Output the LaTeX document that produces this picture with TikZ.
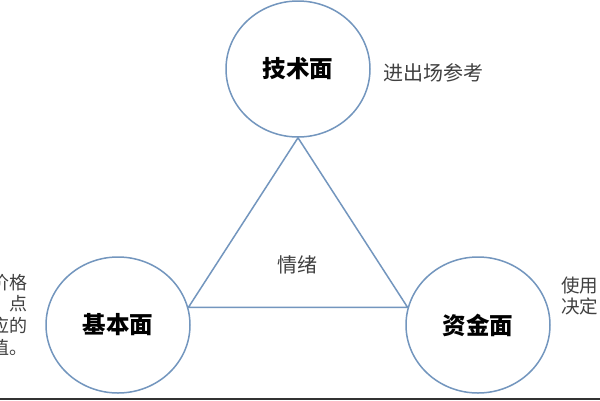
\documentclass[tikz,border=0pt]{standalone}
\usepackage{fontspec}
\usetikzlibrary{shapes.geometric}
\newfontfamily\cjk{Noto Sans CJK SC}
\definecolor{ring}{RGB}{115,150,190}
\definecolor{note}{RGB}{64,64,64}
\begin{document}
\begin{tikzpicture}[x=1pt,y=-1pt,
  facet/.style={ellipse, draw=ring, line width=1.5pt, minimum width=144pt, minimum height=136pt, inner sep=0pt, font=\cjk\bfseries\fontsize{23.5}{23.5}\selectfont, text=black},
  notetext/.style={text=note, inner sep=0pt},
  edge/.style={draw=ring, line width=1.5pt}]
\clip (0,0) rectangle (600,400);
\useasboundingbox (0,0) rectangle (600,400);
\fill[white] (0,0) rectangle (600,400);
\node[facet] (tech) at (298,69) {技术面};
\node[facet] (fund) at (118,325) {基本面};
\node[facet] (cap) at (478,325) {资金面};
\draw[edge] (tech.south) -- (fund.14) -- (cap.166) -- cycle;
\node[notetext, font=\cjk\fontsize{20}{20}\selectfont] (mood) at (297,265) {情绪};
\node[notetext, anchor=west, font=\cjk\fontsize{20}{20}\selectfont] (entry) at (383,72.5) {进出场参考};
\node[notetext, anchor=east, align=right, font=\cjk\fontsize{18}{21.8}\selectfont] (lefttxt) at (27.5,315) {价格\\点\\应的\\值。};
\node[notetext, anchor=west, align=left, font=\cjk\fontsize{18.5}{21.5}\selectfont] (righttxt) at (561,296) {使用\\决定};
\coordinate (rl) at (0,398.5);
\coordinate (rr) at (600,398.5);
\draw[line width=2pt, black!80] (rl) -- (rr);
\end{tikzpicture}
\end{document}
